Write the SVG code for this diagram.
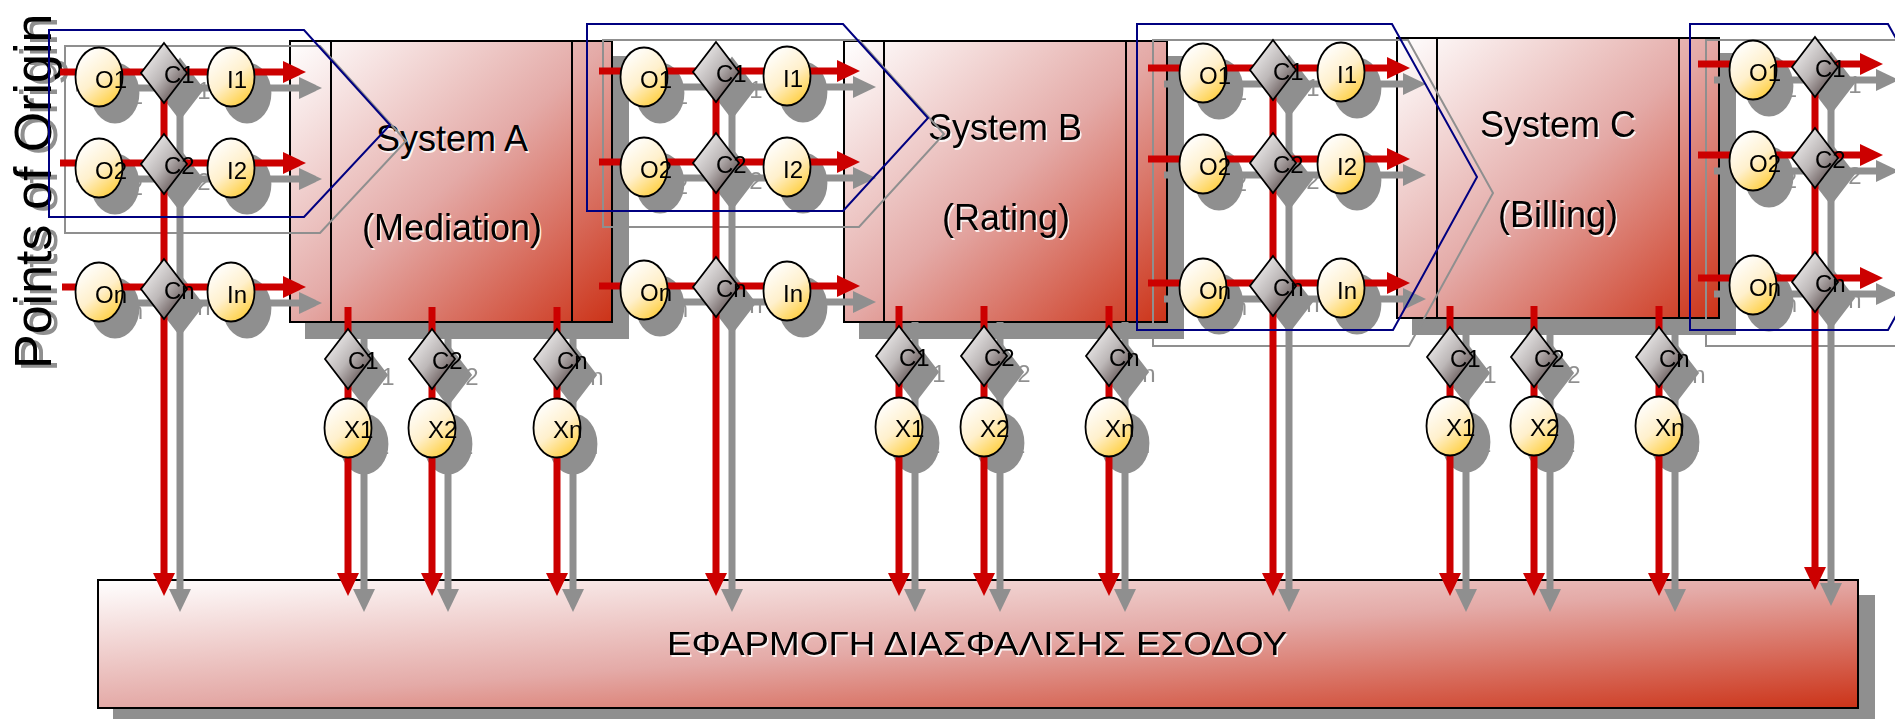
<svg xmlns="http://www.w3.org/2000/svg" xmlns:xlink="http://www.w3.org/1999/xlink" width="1895" height="719" viewBox="0 0 1895 719">
<style>
.bx{stroke:#000;stroke-width:2;fill:url(#gBox)}
.dv{stroke:#000;stroke-width:2;fill:none}
.ne{fill:url(#gY);stroke:#000;stroke-width:1.8}
.nd{fill:url(#gD);stroke:#000;stroke-width:1.8}
.lb{font-family:"Liberation Sans",Arial,sans-serif;font-size:24px;fill:#000}
.st{font-family:"Liberation Sans",Arial,sans-serif;font-size:36px;text-anchor:middle;fill:#000}
.hl{fill:#fff;opacity:.85}
.rl path{fill:none;stroke:#cc0000;stroke-width:7;marker-end:url(#ah)}
.pt{fill:none;stroke:#000080;stroke-width:2}
.tt{font-family:"Liberation Sans",Arial,sans-serif;font-size:52px}
</style>
<defs>
<linearGradient id="gBox" x1="0" y1="0" x2="1" y2="1"><stop offset="0" stop-color="#ffffff"/><stop offset="0.5" stop-color="#e4aaa7"/><stop offset="1" stop-color="#cc3318"/></linearGradient>
<linearGradient id="gY" x1="0.2" y1="0.05" x2="0.8" y2="1"><stop offset="0" stop-color="#ffffff"/><stop offset="0.5" stop-color="#fff0cc"/><stop offset="1" stop-color="#ffcc33"/></linearGradient>
<linearGradient id="gD" x1="0" y1="0" x2="1" y2="1"><stop offset="0" stop-color="#ffffff"/><stop offset="0.5" stop-color="#bdb8b8"/><stop offset="1" stop-color="#3a2828"/></linearGradient>
<marker id="ah" viewBox="0 0 24 24" markerUnits="userSpaceOnUse" markerWidth="24" markerHeight="24" refX="2" refY="12" orient="auto"><path d="M0,1 L23,12 L0,23Z" fill="#cc0000"/></marker>
<filter id="sh" filterUnits="userSpaceOnUse" x="-100" y="-100" width="2200" height="1000"><feFlood flood-color="#8f8f8f"/><feComposite in2="SourceAlpha" operator="in"/></filter>
<ellipse id="E" cx="0" cy="0" rx="23.5" ry="29.5"/>
<path id="D" d="M0,-30 L23,0 L0,30 L-23,0Z"/>
</defs>

<g id="title">
<text class="tt" fill="#8f8f8f" transform="translate(57,372) rotate(-90)">Points of Origin</text>
<text class="tt" fill="#000" transform="translate(51,369) rotate(-90)">Points of Origin</text>
</g>

<use href="#boxes" x="16" y="16" filter="url(#sh)"/>
<g id="boxes">
<g id="system-a">
<rect class="bx" x="290" y="41" width="322" height="281"/>
<path class="dv" d="M331,41V322M572,41V322"/>
<text class="st hl" x="453.5" y="152.5">System A</text><text class="st" x="452" y="151">System A</text>
<text class="st hl" x="453.5" y="241.5">(Mediation)</text><text class="st" x="452" y="240">(Mediation)</text>
</g>
<g id="system-b">
<rect class="bx" x="844" y="41" width="323" height="281"/>
<path class="dv" d="M884,41V322M1126,41V322"/>
<text class="st hl" x="1006.5" y="141.5">System B</text><text class="st" x="1005" y="140">System B</text>
<text class="st hl" x="1007.5" y="231.5">(Rating)</text><text class="st" x="1006" y="230">(Rating)</text>
</g>
<g id="system-c">
<rect class="bx" x="1397" y="38" width="322" height="280"/>
<path class="dv" d="M1437,38V318M1679,38V318"/>
<text class="st hl" x="1559.5" y="138.5">System C</text><text class="st" x="1558" y="137">System C</text>
<text class="st hl" x="1559.5" y="228.5">(Billing)</text><text class="st" x="1558" y="227">(Billing)</text>
</g>
<g id="revenue-assurance">
<rect class="bx" x="98" y="580" width="1760" height="128"/>
<text class="st hl" x="978.5" y="656.5" style="font-size:33px" textLength="620" lengthAdjust="spacingAndGlyphs">ΕΦΑΡΜΟΓΗ ΔΙΑΣΦΑΛΙΣΗΣ ΕΣΟΔΟΥ</text>
<text class="st" x="977" y="655" style="font-size:33px" textLength="620" lengthAdjust="spacingAndGlyphs">ΕΦΑΡΜΟΓΗ ΔΙΑΣΦΑΛΙΣΗΣ ΕΣΟΔΟΥ</text>
</g>
</g>

<use href="#groups" x="16" y="16" filter="url(#sh)"/>
<use href="#connectors" x="16" y="16" filter="url(#sh)"/>
<use href="#nodes" x="16" y="16" filter="url(#sh)"/>

<g id="connectors" class="rl">
<path d="M60,72H285"/><path d="M60,163H285"/><path d="M62,287H285"/><path d="M164,73V575"/>
<path d="M599,71H839"/><path d="M599,162H839"/><path d="M599,286H839"/><path d="M716,72V575"/>
<path d="M1148,68H1389"/><path d="M1148,159H1389"/><path d="M1148,283H1389"/><path d="M1273,70V575"/>
<path d="M1698,64H1862"/><path d="M1698,155H1862"/><path d="M1698,278H1862"/><path d="M1815,67V569"/>
<path d="M348,307V575"/><path d="M432,307V575"/><path d="M557,307V575"/>
<path d="M899,306V575"/><path d="M984,306V575"/><path d="M1109,306V575"/>
<path d="M1450,306V575"/><path d="M1534,306V575"/><path d="M1659,306V575"/>
</g>

<g id="nodes">
<g id="a-o1"><use href="#E" x="99" y="77" class="ne"/><text class="lb" x="95" y="88">O1</text></g>
<g id="a-o2"><use href="#E" x="99" y="168" class="ne"/><text class="lb" x="95" y="179">O2</text></g>
<g id="a-on"><use href="#E" x="99" y="292" class="ne"/><text class="lb" x="95" y="303">On</text></g>
<g id="a-c1"><use href="#D" x="164" y="73" class="nd"/><text class="lb" x="164" y="83">C1</text></g>
<g id="a-c2"><use href="#D" x="164" y="164" class="nd"/><text class="lb" x="164" y="174">C2</text></g>
<g id="a-cn"><use href="#D" x="164" y="289" class="nd"/><text class="lb" x="164" y="299">Cn</text></g>
<g id="a-i1"><use href="#E" x="231" y="77" class="ne"/><text class="lb" x="227" y="88">I1</text></g>
<g id="a-i2"><use href="#E" x="231" y="168" class="ne"/><text class="lb" x="227" y="179">I2</text></g>
<g id="a-in"><use href="#E" x="231" y="292" class="ne"/><text class="lb" x="227" y="303">In</text></g>

<g id="b-o1"><use href="#E" x="644" y="77" class="ne"/><text class="lb" x="640" y="88">O1</text></g>
<g id="b-o2"><use href="#E" x="644" y="167" class="ne"/><text class="lb" x="640" y="178">O2</text></g>
<g id="b-on"><use href="#E" x="644" y="290" class="ne"/><text class="lb" x="640" y="301">On</text></g>
<g id="b-c1"><use href="#D" x="716" y="72" class="nd"/><text class="lb" x="716" y="82">C1</text></g>
<g id="b-c2"><use href="#D" x="716" y="163" class="nd"/><text class="lb" x="716" y="173">C2</text></g>
<g id="b-cn"><use href="#D" x="716" y="287" class="nd"/><text class="lb" x="716" y="297">Cn</text></g>
<g id="b-i1"><use href="#E" x="787" y="76" class="ne"/><text class="lb" x="783" y="87">I1</text></g>
<g id="b-i2"><use href="#E" x="787" y="167" class="ne"/><text class="lb" x="783" y="178">I2</text></g>
<g id="b-in"><use href="#E" x="787" y="291" class="ne"/><text class="lb" x="783" y="302">In</text></g>

<g id="c-o1"><use href="#E" x="1203" y="73" class="ne"/><text class="lb" x="1199" y="84">O1</text></g>
<g id="c-o2"><use href="#E" x="1203" y="164" class="ne"/><text class="lb" x="1199" y="175">O2</text></g>
<g id="c-on"><use href="#E" x="1203" y="288" class="ne"/><text class="lb" x="1199" y="299">On</text></g>
<g id="c-c1"><use href="#D" x="1273" y="70" class="nd"/><text class="lb" x="1273" y="80">C1</text></g>
<g id="c-c2"><use href="#D" x="1273" y="163" class="nd"/><text class="lb" x="1273" y="173">C2</text></g>
<g id="c-cn"><use href="#D" x="1273" y="286" class="nd"/><text class="lb" x="1273" y="296">Cn</text></g>
<g id="c-i1"><use href="#E" x="1341" y="72" class="ne"/><text class="lb" x="1337" y="83">I1</text></g>
<g id="c-i2"><use href="#E" x="1341" y="164" class="ne"/><text class="lb" x="1337" y="175">I2</text></g>
<g id="c-in"><use href="#E" x="1341" y="288" class="ne"/><text class="lb" x="1337" y="299">In</text></g>

<g id="d-o1"><use href="#E" x="1753" y="70" class="ne"/><text class="lb" x="1749" y="81">O1</text></g>
<g id="d-o2"><use href="#E" x="1753" y="161" class="ne"/><text class="lb" x="1749" y="172">O2</text></g>
<g id="d-on"><use href="#E" x="1753" y="285" class="ne"/><text class="lb" x="1749" y="296">On</text></g>
<g id="d-c1"><use href="#D" x="1815" y="67" class="nd"/><text class="lb" x="1815" y="77">C1</text></g>
<g id="d-c2"><use href="#D" x="1815" y="158" class="nd"/><text class="lb" x="1815" y="168">C2</text></g>
<g id="d-cn"><use href="#D" x="1815" y="282" class="nd"/><text class="lb" x="1815" y="292">Cn</text></g>

<g id="ax-c1"><use href="#D" x="348" y="359" class="nd"/><text class="lb" x="348" y="369">C1</text></g>
<g id="ax-c2"><use href="#D" x="432" y="359" class="nd"/><text class="lb" x="432" y="369">C2</text></g>
<g id="ax-cn"><use href="#D" x="557" y="359" class="nd"/><text class="lb" x="557" y="369">Cn</text></g>
<g id="ax-x1"><use href="#E" x="348" y="428" class="ne"/><text class="lb" x="344" y="438">X1</text></g>
<g id="ax-x2"><use href="#E" x="432" y="428" class="ne"/><text class="lb" x="428" y="438">X2</text></g>
<g id="ax-xn"><use href="#E" x="557" y="428" class="ne"/><text class="lb" x="553" y="438">Xn</text></g>

<g id="bx-c1"><use href="#D" x="899" y="356" class="nd"/><text class="lb" x="899" y="366">C1</text></g>
<g id="bx-c2"><use href="#D" x="984" y="356" class="nd"/><text class="lb" x="984" y="366">C2</text></g>
<g id="bx-cn"><use href="#D" x="1109" y="356" class="nd"/><text class="lb" x="1109" y="366">Cn</text></g>
<g id="bx-x1"><use href="#E" x="899" y="427" class="ne"/><text class="lb" x="895" y="437">X1</text></g>
<g id="bx-x2"><use href="#E" x="984" y="427" class="ne"/><text class="lb" x="980" y="437">X2</text></g>
<g id="bx-xn"><use href="#E" x="1109" y="427" class="ne"/><text class="lb" x="1105" y="437">Xn</text></g>

<g id="cx-c1"><use href="#D" x="1450" y="357" class="nd"/><text class="lb" x="1450" y="367">C1</text></g>
<g id="cx-c2"><use href="#D" x="1534" y="357" class="nd"/><text class="lb" x="1534" y="367">C2</text></g>
<g id="cx-cn"><use href="#D" x="1659" y="357" class="nd"/><text class="lb" x="1659" y="367">Cn</text></g>
<g id="cx-x1"><use href="#E" x="1450" y="426" class="ne"/><text class="lb" x="1446" y="436">X1</text></g>
<g id="cx-x2"><use href="#E" x="1534" y="426" class="ne"/><text class="lb" x="1530" y="436">X2</text></g>
<g id="cx-xn"><use href="#E" x="1659" y="426" class="ne"/><text class="lb" x="1655" y="436">Xn</text></g>
</g>

<g id="groups">
<polygon class="pt" points="49,30 304,30 390,125 304,217 49,217"/>
<polygon class="pt" points="587,24 843,24 928,118 843,211 587,211"/>
<polygon class="pt" points="1137,24 1392,24 1477,177 1393,330 1137,330"/>
<polygon class="pt" points="1690,24 1888,24 1973,177 1888,330 1690,330"/>
</g>
</svg>
